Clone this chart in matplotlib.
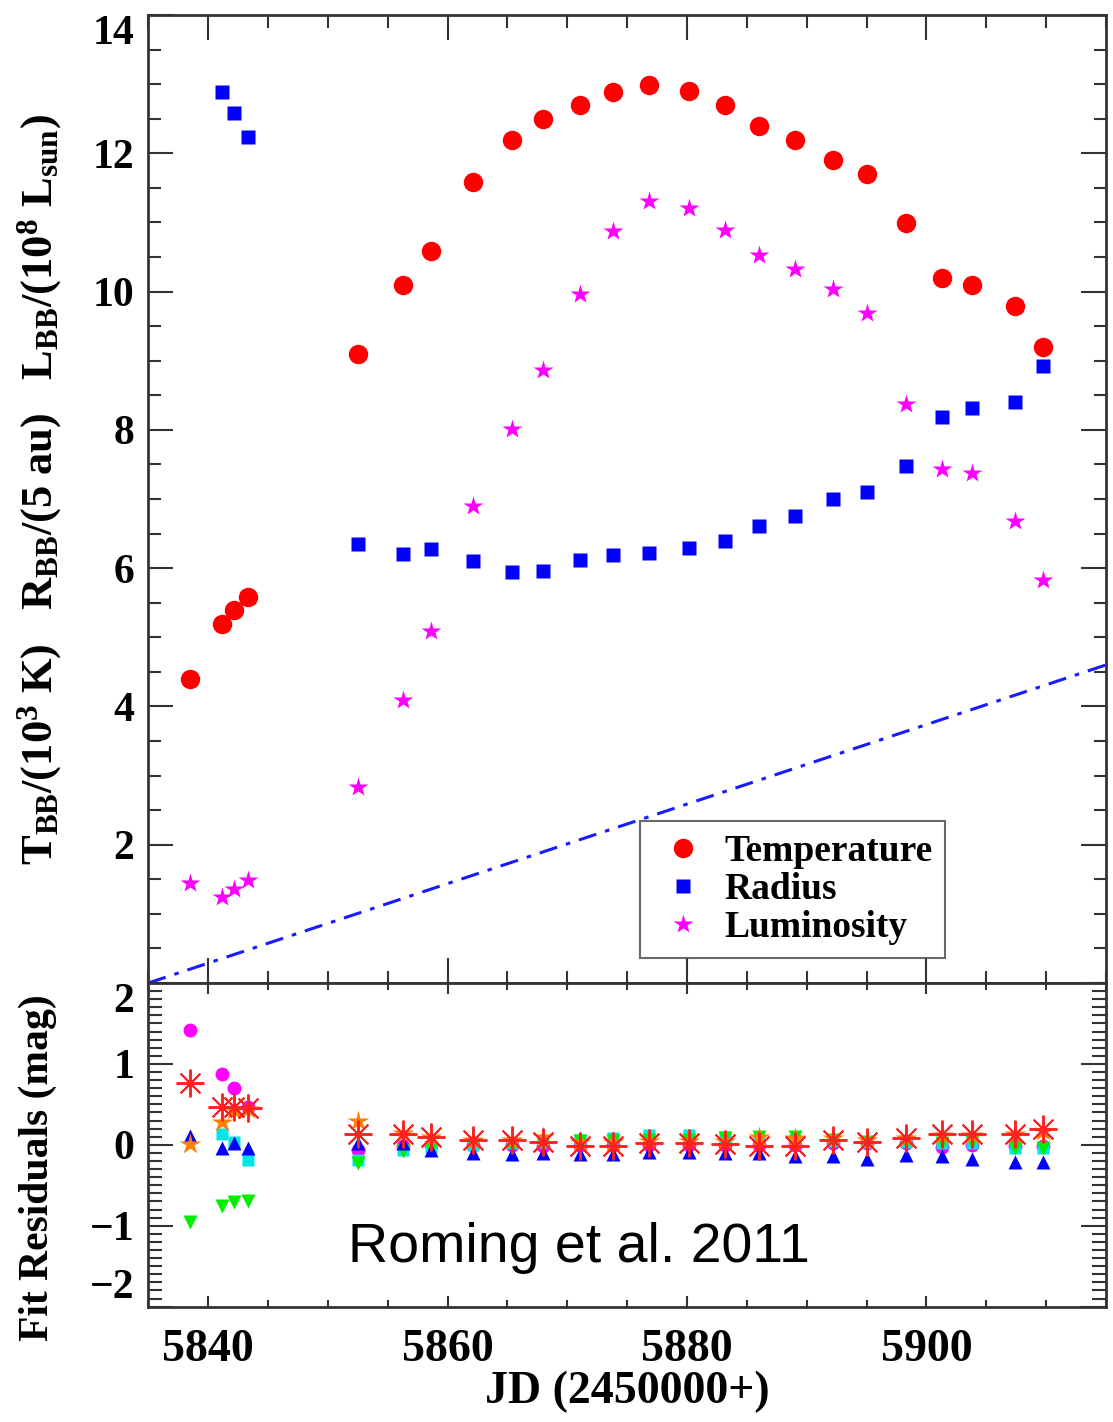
import numpy as np
import matplotlib
matplotlib.use("Agg")
from matplotlib import pyplot as plt
from matplotlib.ticker import MultipleLocator

nan = np.nan

# epochs (JD - 2450000)
jd = [5838.5, 5841.2, 5842.2, 5843.3, 5852.5, 5856.3, 5858.6, 5862.1, 5865.4, 5868.0,
      5871.1, 5873.8, 5876.8, 5880.2, 5883.2, 5886.0, 5889.0, 5892.2, 5895.0, 5898.3,
      5901.3, 5903.8, 5907.4, 5909.7]

temperature = [4.40, 5.19, 5.39, 5.58, 9.10, 10.10, 10.59, 11.59, 12.19, 12.50,
               12.70, 12.89, 12.99, 12.90, 12.70, 12.40, 12.19, 11.90, 11.70, 10.99,
               10.20, 10.10, 9.79, 9.20]
radius = [nan, 12.89, 12.58, 12.24, 6.35, 6.20, 6.28, 6.10, 5.94, 5.96,
          6.12, 6.19, 6.22, 6.29, 6.39, 6.61, 6.75, 7.00, 7.10, 7.48,
          8.19, 8.32, 8.40, 8.92]
luminosity = [1.45, 1.24, 1.36, 1.49, 2.83, 4.09, 5.09, 6.90, 8.01, 8.87,
              9.97, 10.88, 11.31, 11.21, 10.89, 10.53, 10.33, 10.04, 9.69, 8.37,
              7.43, 7.38, 6.68, 5.83]

# dash-dot reference line
line_x = [5835, 5915]
line_y = [0.0, 4.6]

# fit residuals per filter
res_mag = [1.42, 0.87, 0.70, 0.47, -0.06, -0.02, 0.00, 0.00, 0.00, -0.02,
           0.00, 0.00, 0.00, 0.00, 0.00, 0.00, 0.00, 0.02, 0.02, 0.02,
           -0.03, 0.00, -0.02, -0.02]
res_cyan = [nan, 0.14, 0.04, -0.19, -0.19, -0.06, -0.03, 0.00, 0.02, 0.04,
            0.06, 0.08, 0.12, 0.12, 0.10, 0.06, 0.06, 0.05, 0.04, 0.04,
            0.02, 0.02, -0.04, -0.04]
res_green = [-0.95, -0.76, -0.71, -0.69, -0.22, -0.08, -0.04, 0.00, 0.00, 0.02,
             0.05, 0.05, 0.06, 0.06, 0.08, 0.10, 0.10, 0.06, 0.04, 0.04,
             0.02, 0.04, -0.04, -0.04]
res_blue = [0.11, -0.04, 0.02, -0.04, 0.02, 0.02, -0.06, -0.10, -0.11, -0.10,
            -0.11, -0.11, -0.09, -0.09, -0.10, -0.10, -0.14, -0.14, -0.17, -0.12,
            -0.14, -0.17, -0.21, -0.21]
res_orange = [0.01, 0.28, 0.43, 0.44, 0.29, 0.15, 0.10, 0.06, 0.06, 0.10,
              0.04, 0.04, 0.05, 0.05, 0.05, 0.10, 0.08, 0.08, 0.06, 0.08,
              0.12, 0.12, 0.14, 0.17]
res_red = [0.76, 0.47, 0.47, 0.46, 0.14, 0.14, 0.10, 0.06, 0.06, 0.03,
           -0.02, -0.02, 0.02, 0.02, 0.01, -0.02, -0.02, 0.06, 0.04, 0.08,
           0.14, 0.14, 0.14, 0.19]

serif = "Liberation Serif"
plt.rcParams.update({
    "font.family": serif,
    "font.weight": "bold",
    "mathtext.fontset": "custom",
    "mathtext.rm": "Liberation Serif:bold",
    "mathtext.bf": "Liberation Serif:bold",
    "mathtext.it": "Liberation Serif:bold",
})

fig = plt.figure(figsize=(11.13, 14.22), dpi=100)
ax = fig.add_axes([0.1332, 0.3087, 0.8605, 0.6808])
ar = fig.add_axes([0.1332, 0.0811, 0.8605, 0.2276], sharex=ax)

ax.plot(line_x, line_y, color="#1a1aff", lw=2.2, ls=(0, (6, 3, 1.5, 3)))
ax.plot(jd, temperature, "o", color="#ff0000", ms=14, mec="none", label="Temperature")
ax.plot(jd, radius, "s", color="#0000ff", ms=9.5, mec="none", label="Radius")
ax.plot(jd, luminosity, "*", color="#ff00ff", ms=15, mec="none", label="Luminosity")

ax.set_xlim(5835, 5915)
ax.set_ylim(0, 14)
ax.set_yticks([2, 4, 6, 8, 10, 12, 14])
ax.yaxis.set_minor_locator(MultipleLocator(0.5))
ax.xaxis.set_major_locator(MultipleLocator(20))
ax.xaxis.set_minor_locator(MultipleLocator(5))
ax.tick_params(which="both", direction="in", top=True, right=True, labelbottom=False,
               width=1.5, color="#333333")
ax.tick_params(which="major", length=18, labelsize=30, pad=10)
ax.tick_params(which="minor", length=9)
ax.get_yticklabels()[-1].set_va("top")
ax.set_ylabel(r"T$_{\rm BB}$/(10$^{3}$ K)   R$_{\rm BB}$/(5 au)   L$_{\rm BB}$/(10$^{8}$ L$_{\rm sun}$)",
              fontsize=32, fontweight="bold")

leg = ax.legend(loc="lower left", bbox_to_anchor=(0.513, 0.026), borderaxespad=0,
                fontsize=27, frameon=True, fancybox=False, edgecolor="#444444",
                handletextpad=0.3, borderpad=0.35, labelspacing=0.08, handlelength=1.6)
leg.get_frame().set_linewidth(1.5)
for t in leg.get_texts():
    t.set_fontweight("bold")

ar.plot(jd, res_mag, "o", color="#ff00ff", ms=10, mec="none")
ar.plot(jd, res_cyan, "s", color="#00e5e5", ms=9, mec="none")
ar.plot(jd, res_green, "v", color="#00ee00", ms=10, mec="none")
ar.plot(jd, res_blue, "^", color="#0000ff", ms=10, mec="none")
ar.plot(jd, res_orange, "*", color="#ff7f00", ms=16, mec="none")
ar.plot(jd, res_red, marker=(8, 2, 0), ls="none", color="#ff2020", ms=20, mew=1.4)

ar.set_ylim(-2, 2)
ar.set_yticks([-2, -1, 0, 1, 2])
ar.yaxis.set_minor_locator(MultipleLocator(0.1))
ar.set_xticks([5840, 5860, 5880, 5900])
ar.tick_params(which="both", direction="in", top=True, right=True,
               width=1.5, color="#333333")
ar.tick_params(axis="y", which="major", length=18, labelsize=30, pad=10)
ar.tick_params(axis="y", which="minor", length=10)
ar.tick_params(axis="x", which="major", length=8, labelsize=33, pad=16)
ar.tick_params(axis="x", which="minor", length=5)
ylabs = ar.get_yticklabels()
ylabs[0].set_va("bottom")
ylabs[-1].set_va("top")
ar.set_xlabel("JD (2450000+)", fontsize=33, fontweight="bold", labelpad=0)
ar.set_ylabel("Fit Residuals (mag)", fontsize=30, fontweight="bold")

ar.text(0.209, 0.138, "Roming et al. 2011", transform=ar.transAxes, fontsize=40,
        family="Liberation Sans", fontweight="normal", va="baseline", ha="left")

for a in (ax, ar):
    for s in a.spines.values():
        s.set_linewidth(2)
        s.set_color("#333333")

ax.yaxis.set_label_coords(-0.088, 0.51)
ar.yaxis.set_label_coords(-0.095, 0.43)

fig.savefig("out.png", dpi=100)
